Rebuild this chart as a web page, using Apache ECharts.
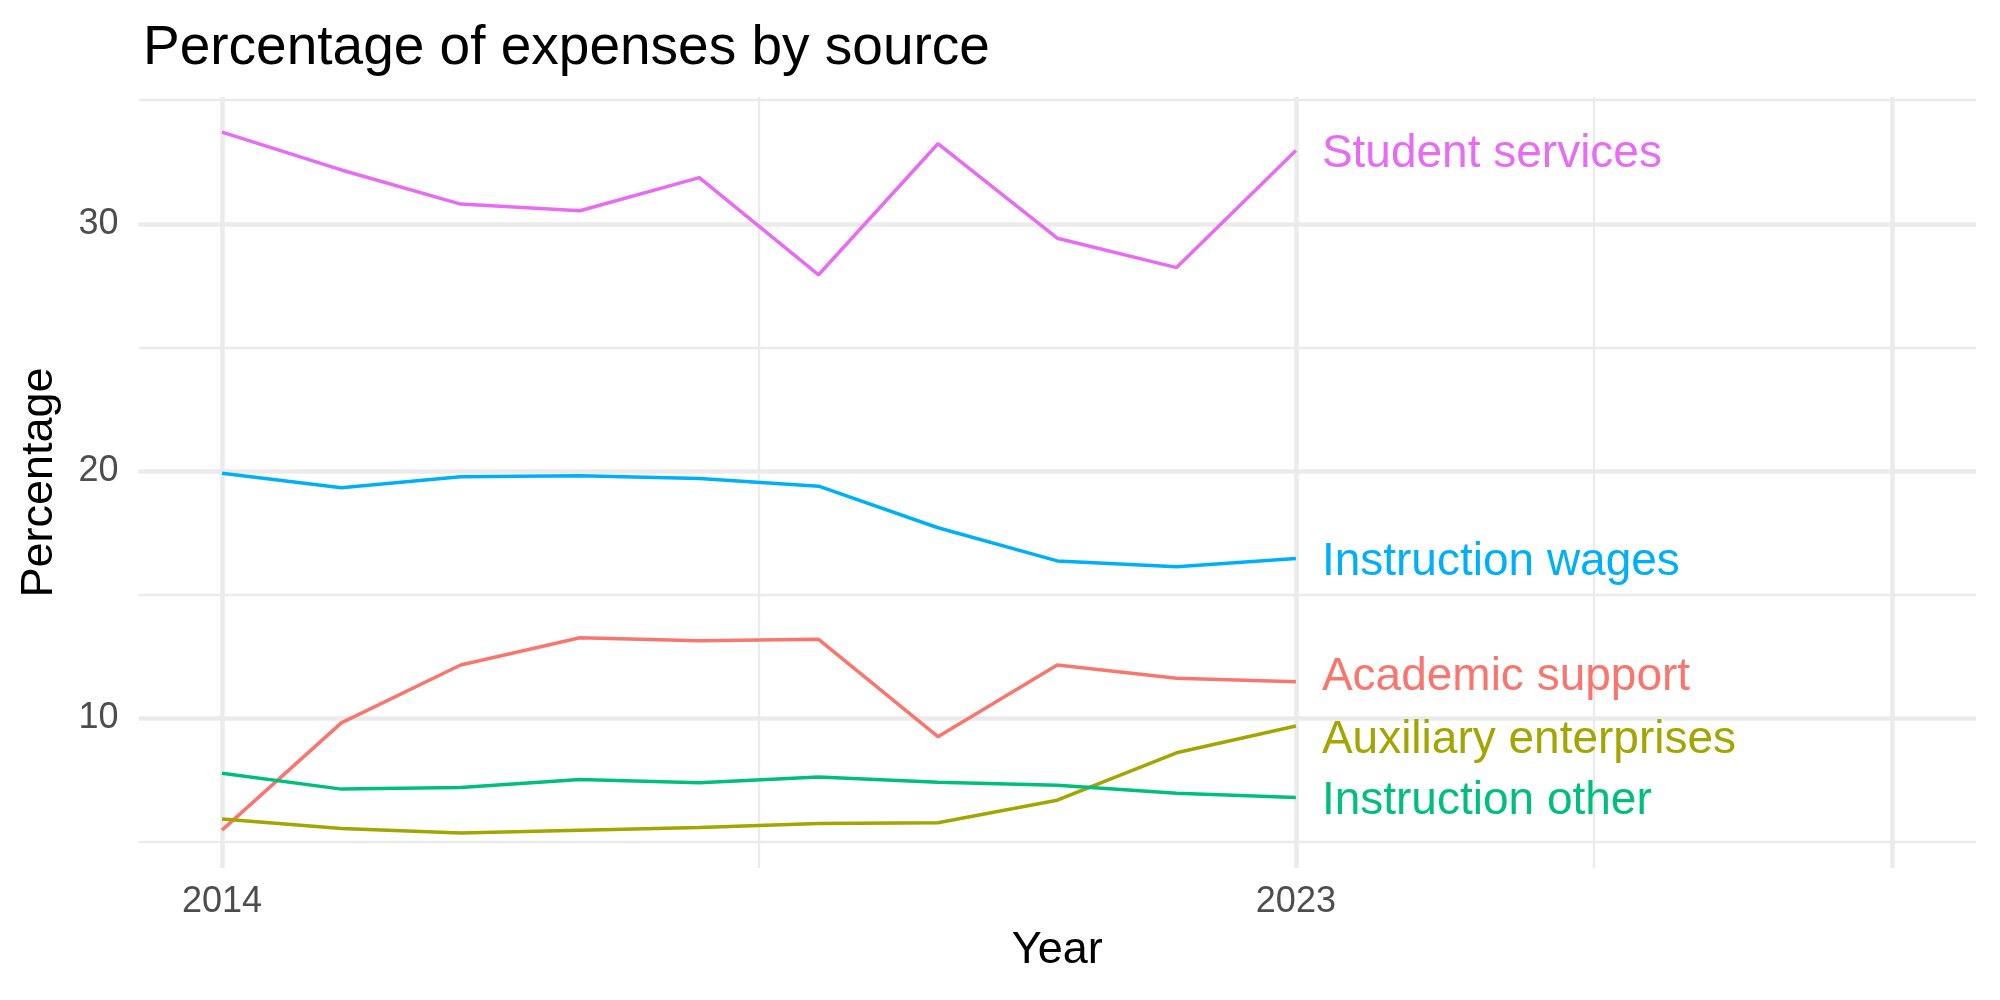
<!DOCTYPE html>
<html>
<head>
<meta charset="utf-8">
<title>Percentage of expenses by source</title>
<script src="https://cdn.jsdelivr.net/npm/echarts@6/dist/echarts.min.js"></script>
<style>
  html, body { margin: 0; padding: 0; background: #fff; }
  #expenses-chart { width: 2000px; height: 1000px; }
</style>
</head>
<body>
<div id="expenses-chart"></div>
<script>
const years = [2014, 2015, 2016, 2017, 2018, 2019, 2020, 2021, 2022, 2023]

const studentServices = [33.71, 32.18, 30.80, 30.53, 31.87, 27.94, 33.24, 29.42, 28.23, 32.97]
const instructionWages = [19.91, 19.33, 19.77, 19.81, 19.70, 19.39, 17.71, 16.37, 16.13, 16.47]
const academicSupport = [5.48, 9.82, 12.16, 13.26, 13.14, 13.20, 9.26, 12.16, 11.62, 11.48]
const auxiliaryEnterprises = [5.93, 5.55, 5.37, 5.48, 5.59, 5.75, 5.78, 6.69, 8.61, 9.69]
const instructionOther = [7.78, 7.14, 7.21, 7.53, 7.40, 7.63, 7.42, 7.30, 6.97, 6.80]

const xTickLabels = [2014, 2023]
const yTickLabels = [10, 20, 30]
const xMajorGrid = [2014, 2023, 2028]
const xMinorGrid = [2018.5, 2025.5]
const yMajorGrid = [10, 20, 30]
const yMinorGrid = [5, 15, 25, 35]

const font = '"Liberation Sans", Arial, Helvetica, sans-serif'
const gridColor = '#ebebeb'

// name, values, colour, vertical nudge of the end label (ggrepel moved two of them)
const seriesDefs = [
  ['Academic support', academicSupport, '#F8766D', -4],
  ['Auxiliary enterprises', auxiliaryEnterprises, '#A3A500', 14],
  ['Instruction other', instructionOther, '#00BF7D', 4],
  ['Instruction wages', instructionWages, '#00B0F6', 4],
  ['Student services', studentServices, '#E76BF3', 4]
]

const gridLines = () => {
  const major = { color: gridColor, width: 4.5, type: 'solid' }
  const minor = { color: gridColor, width: 2.3, type: 'solid' }
  return [
    ...xMinorGrid.map(v => ({ xAxis: v, lineStyle: minor })),
    ...yMinorGrid.map(v => ({ yAxis: v, lineStyle: minor })),
    ...xMajorGrid.map(v => ({ xAxis: v, lineStyle: major })),
    ...yMajorGrid.map(v => ({ yAxis: v, lineStyle: major }))
  ]
}

const chart = echarts.init(document.getElementById('expenses-chart'), null, { renderer: 'canvas' })

chart.setOption({
  animation: false,
  backgroundColor: '#fff',
  textStyle: { fontFamily: font },
  title: {
    text: 'Percentage of expenses by source',
    left: 138,
    top: 16,
    textStyle: {
      fontFamily: font,
      fontSize: 55,
      fontWeight: 'normal',
      color: '#000'
    }
  },
  grid: {
    left: 138.5,
    right: 24,
    top: 97,
    bottom: 132,
    outerBoundsMode: 'none'
  },
  xAxis: {
    type: 'value',
    min: 2013.3,
    max: 2028.7,
    name: 'Year',
    nameLocation: 'middle',
    nameGap: 60,
    nameTextStyle: { fontFamily: font, fontSize: 45, color: '#000' },
    axisLine: { show: false },
    axisTick: { show: false },
    splitLine: { show: false },
    axisLabel: {
      customValues: xTickLabels,
      formatter: v => String(v),
      margin: 16,
      fontFamily: font,
      fontSize: 36,
      color: '#4d4d4d'
    }
  },
  yAxis: {
    type: 'value',
    min: 3.95,
    max: 35.13,
    name: 'Percentage',
    nameLocation: 'middle',
    nameRotate: 90,
    nameGap: 76,
    nameTextStyle: { fontFamily: font, fontSize: 45, color: '#000' },
    axisLine: { show: false },
    axisTick: { show: false },
    splitLine: { show: false },
    axisLabel: {
      customValues: yTickLabels,
      formatter: v => String(v),
      margin: 20,
      fontFamily: font,
      fontSize: 36,
      color: '#4d4d4d'
    }
  },
  series: [
    {
      name: 'grid',
      type: 'line',
      data: [],
      z: 0,
      silent: true,
      markLine: {
        silent: true,
        symbol: 'none',
        animation: false,
        z: 0,
        label: { show: false },
        emphasis: { disabled: true },
        data: gridLines()
      }
    },
    ...seriesDefs.map(([name, values, color, nudge]) => ({
      name,
      type: 'line',
      z: 2,
      showSymbol: false,
      symbol: 'none',
      color,
      lineStyle: { color, width: 3.5 },
      emphasis: { disabled: true },
      data: years.map((y, i) => [y, values[i]]),
      endLabel: {
        show: true,
        formatter: '{a}',
        color,
        fontFamily: font,
        fontSize: 46,
        textBorderWidth: 0,
        textShadowBlur: 0,
        distance: 26,
        offset: [0, nudge]
      }
    }))
  ]
})
</script>
</body>
</html>
